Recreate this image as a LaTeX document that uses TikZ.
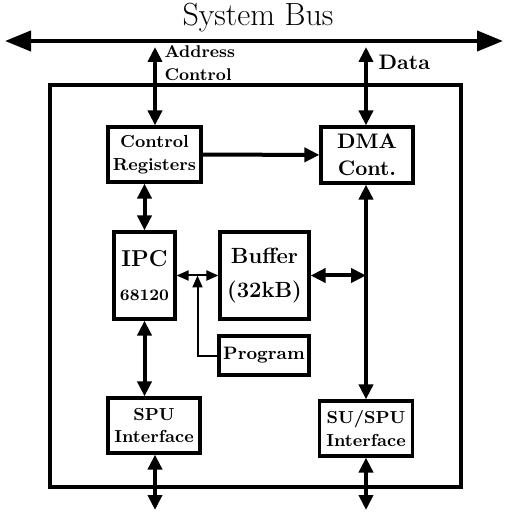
\documentclass[tikz,border=0pt]{standalone}
\usetikzlibrary{arrows.meta,calc}
\newcommand{\fs}[1]{\fontsize{#1}{1.2\dimexpr#1pt\relax}\selectfont}
\begin{document}
\begin{tikzpicture}
      [x=0.5pt,y=-0.5pt,line width=1.6pt,
       every node/.style={font=\bfseries, align=center, inner sep=0pt},
       unit/.style={draw, rectangle},
       bus/.style={line width=2pt, {Triangle[width=10pt,length=13pt]}-{Triangle[width=10pt,length=13pt]}},
       link/.style={line width=2pt, {Triangle[width=7pt,length=7.5pt]}-{Triangle[width=7pt,length=7.5pt]}},
       feed/.style={line width=2pt, -{Triangle[width=7pt,length=7.5pt]}},
       thin/.style={line width=1pt, {Triangle[width=5pt,length=6pt]}-{Triangle[width=5pt,length=6pt]}},
       tap/.style={line width=1pt, -{Triangle[width=5pt,length=6pt]}}]
    \useasboundingbox (0,0) rectangle (507,512);

    % system bus and the card outline
    \node[font=\fs{16}] (title) at (258,18) {System Bus};
    \coordinate (busL) at (5,41);
    \coordinate (busR) at (503,41);
    \draw[bus] (busL) -- (busR);
    \draw (50,85) rectangle (461,487);

    % blocks
    \node[unit, minimum width=46.5pt, minimum height=27.5pt, font=\bfseries\fs{8.7}] (ctrl) at (154.5,154.5) {Control\\[1pt]Registers};
    \node[unit, minimum width=46pt, minimum height=28pt, font=\bfseries\fs{10.5}] (dma) at (367,155) {DMA\\[1pt]Cont.};
    \node[unit, minimum width=30.5pt, minimum height=43.5pt] (ipc) at (144.5,275.5) {{\fs{11.5}IPC}\\[5pt]{\fs{8}68120}};
    \node[unit, minimum width=44.5pt, minimum height=43.5pt, font=\bfseries\fs{11}] (buf) at (264.5,275.5) {Buffer\\[4pt](32kB)};
    \node[unit, minimum width=45pt, minimum height=19.5pt, font=\bfseries\fs{9}] (prog) at (264,355.5) {Program};
    \node[unit, minimum width=46pt, minimum height=27.5pt, font=\bfseries\fs{8.7}] (spu) at (154,425.5) {SPU\\[1pt]Interface};
    \node[unit, minimum width=46.5pt, minimum height=27.5pt, font=\bfseries\fs{8.7}] (su) at (366,428.5) {SU/SPU\\[1pt]Interface};

    % bus labels
    \node[anchor=west, align=left, font=\bfseries\fs{8.5}] (adr) at (163,63) {Address\\[1pt]Control};
    \node[anchor=west, font=\bfseries\fs{10.5}] (dat) at (377,62) {Data};

    % connections
    \coordinate (ac) at (155,47);
    \coordinate (dt) at (366,47);
    \coordinate (out1) at (155,510);
    \coordinate (out2) at (366,510);
    \draw[link] (ac) -- (ac |- ctrl.north);
    \draw[link] (dt) -- (dt |- dma.north);
    \draw[feed] (ctrl) -- (dma);
    \draw[link] (ipc.north) -- (ipc.north |- ctrl.south);
    \draw[link] (ipc.south) -- (ipc.south |- spu.north);
    \draw[link] (su.north |- dma.south) -- (su.north);
    \draw[link] (buf.east) -- (buf.east -| su);
    \draw[thin] (ipc) -- (buf);
    \draw[tap] (prog.west) -| ($(ipc.east)!.5!(buf.west)$);
    \foreach \from/\to in {spu/out1, su/out2}
      \draw[link] (\from.south -| \to) -- (\to);
  \end{tikzpicture}
\end{document}
